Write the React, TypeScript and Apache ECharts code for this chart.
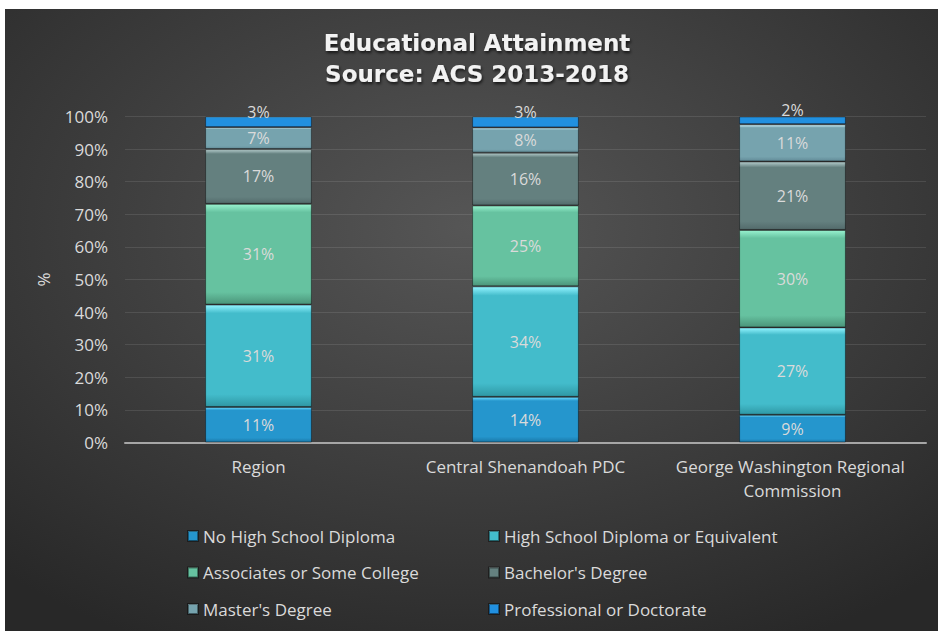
import React, { useEffect, useRef } from "react";
import * as echarts from "echarts";

const categories = ["Region", "Central Shenandoah PDC", "George Washington Regional Commission"];
const seriesNames = [
  "No High School Diploma",
  "High School Diploma or Equivalent",
  "Associates or Some College",
  "Bachelor's Degree",
  "Master's Degree",
  "Professional or Doctorate",
];
const noHighSchool = [10.9, 14.0, 8.5];
const highSchool = [31.4, 33.9, 26.8];
const associates = [30.9, 24.8, 29.9];
const bachelors = [16.8, 16.2, 21.0];
const masters = [6.7, 7.7, 11.4];
const professional = [3.3, 3.4, 2.4];
const seriesValues = [noHighSchool, highSchool, associates, bachelors, masters, professional];

// style: [top highlight, base, bottom]
const palette = [
  ["#6ddcff", "#2596cd", "#1a78a8"],
  ["#93f4ff", "#43bccb", "#2f98a5"],
  ["#98f2cf", "#66c2a0", "#4b957a"],
  ["#b4cccc", "#64807f", "#536b6b"],
  ["#d2f6ff", "#76a3ae", "#628b97"],
  ["#6fd0ff", "#2190e0", "#1a72bb"],
];

const FONT = "'Open Sans', sans-serif";

export default function App() {
  const ref = useRef<HTMLDivElement>(null);
  useEffect(() => {
    if (!ref.current) return;
    const chart = echarts.init(ref.current, undefined, { renderer: "svg" });
    const series = seriesNames.map((name, i) => ({
      name,
      type: "bar",
      stack: "total",
      barWidth: "40%",
      data: seriesValues[i],
      itemStyle: {
        color: new echarts.graphic.LinearGradient(0, 0, 0, 1, [
          { offset: 0, color: palette[i][0] },
          { offset: 0.08, color: palette[i][1] },
          { offset: 0.88, color: palette[i][1] },
          { offset: 1, color: palette[i][2] },
        ]),
        borderColor: "rgba(0,0,0,0.4)",
        borderWidth: 1,
      },
      label: {
        show: true,
        position: "inside",
        offset: i === 5 ? [0, -10] : [0, 0],
        color: "#dadada",
        fontSize: 16,
        fontFamily: FONT,
        formatter: (p: any) => Math.round(p.value) + "%",
      },
    }));

    const legendCommon = {
      orient: "vertical",
      icon: "rect",
      padding: 0,
      itemWidth: 10,
      itemHeight: 10,
      itemGap: 16.5,
      textStyle: { color: "#dadada", fontSize: 17, fontFamily: FONT, lineHeight: 20 },
    };

    chart.setOption({
      animation: false,
      backgroundColor: {
        type: "radial",
        x: 0.5,
        y: 0.35,
        r: 0.75,
        colorStops: [
          { offset: 0, color: "#565656" },
          { offset: 1, color: "#282828" },
        ],
      },
      title: {
        text: "Educational Attainment\nSource: ACS 2013-2018",
        left: 472,
        textAlign: "center",
        top: 18,
        padding: 0,
        textStyle: {
          color: "#f2f2f2",
          fontSize: 23,
          fontWeight: "bold",
          fontFamily: "'DejaVu Sans', sans-serif",
          lineHeight: 31,
          textShadowColor: "rgba(0,0,0,0.7)",
          textShadowBlur: 3,
          textShadowOffsetX: 1,
          textShadowOffsetY: 2,
        },
      },
      legend: [
        { ...legendCommon, left: 182, top: 517, data: [seriesNames[0], seriesNames[2], seriesNames[4]] },
        { ...legendCommon, left: 483, top: 517, data: [seriesNames[1], seriesNames[3], seriesNames[5]] },
      ],
      grid: { left: 120, right: 12, top: 107.5, bottom: 188.5 },
      xAxis: {
        type: "category",
        data: categories,
        axisTick: { show: false },
        axisLine: { lineStyle: { color: "#a6a6a6", width: 2 } },
        axisLabel: {
          color: "#dadada",
          fontSize: 17,
          fontFamily: FONT,
          margin: 12,
          lineHeight: 24,
          width: 250,
          overflow: "break",
          interval: 0,
        },
      },
      yAxis: {
        type: "value",
        min: 0,
        max: 100,
        interval: 10,
        name: "%",
        nameLocation: "middle",
        nameGap: 73,
        nameRotate: 90,
        nameTextStyle: { color: "#dadada", fontSize: 17, fontFamily: FONT },
        axisLine: { show: false },
        axisTick: { show: false },
        axisLabel: { color: "#dadada", fontSize: 17, fontFamily: FONT, margin: 17, formatter: "{value}%" },
        splitLine: { lineStyle: { color: "rgba(255,255,255,0.1)", width: 1 } },
      },
      series,
    });
    return () => chart.dispose();
  }, []);
  return (
    <div
      ref={ref}
      style={{ position: "absolute", left: 5, top: 9, width: 933, height: 622 }}
    />
  );
}
